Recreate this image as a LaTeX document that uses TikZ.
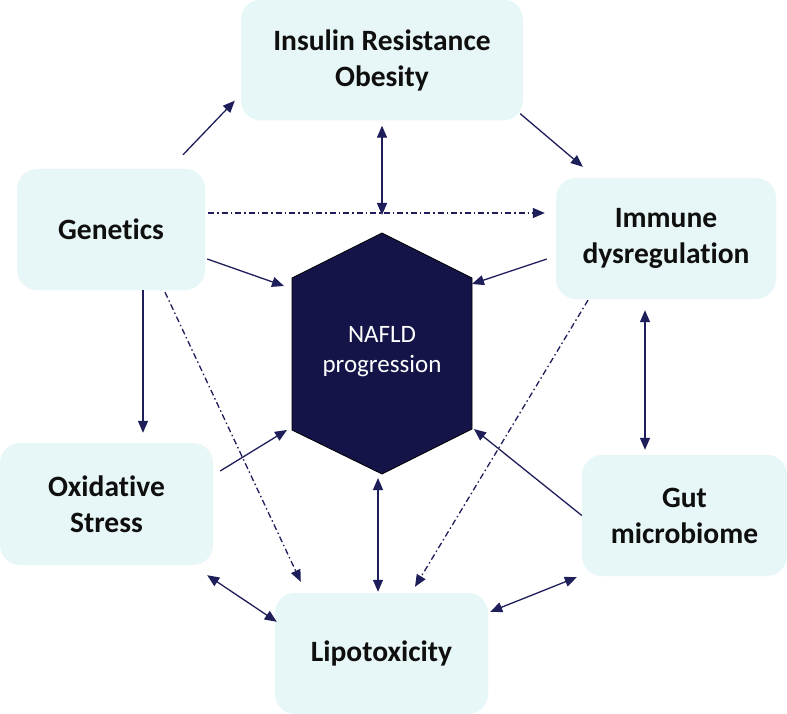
\documentclass[tikz,border=0pt]{standalone}
\usepackage{fontspec}
\setmainfont{Carlito}[Ligatures=NoCommon]
\usetikzlibrary{arrows.meta,calc}
\definecolor{boxfill}{RGB}{231,246,246}
\definecolor{navy}{RGB}{30,30,90}
\definecolor{hexfill}{RGB}{20,20,72}
\definecolor{txt}{RGB}{15,15,15}
\begin{document}
\begin{tikzpicture}[x=1pt,y=-1pt,
  box/.style={fill=boxfill, rounded corners=20pt, align=center, text=txt,
    font=\fontsize{29.5}{36}\selectfont\bfseries, inner sep=0pt},
  conn/.style={draw=navy, line width=1.3pt, -{Triangle[length=12pt,width=10pt]}},
  both/.style={conn, {Triangle[length=12pt,width=10pt]}-{Triangle[length=12pt,width=10pt]}},
  dd/.style={conn, dash pattern=on 6pt off 3pt on 1.5pt off 3pt}]
\useasboundingbox (0,0) rectangle (787,714);
\fill[white] (0,0) rectangle (787,714);
% boxes
\node[box, minimum width=282pt, minimum height=121pt] (ins) at (382,60) {Insulin Resistance\\Obesity};
\node[box, minimum width=188pt, minimum height=121pt] (gen) at (111,229.5) {Genetics};
\node[box, minimum width=220pt, minimum height=121pt] (imm) at (666,238.5) {Immune\\dysregulation};
\node[box, minimum width=213pt, minimum height=122pt] (oxi) at (106.5,504) {Oxidative\\Stress};
\node[box, minimum width=213pt, minimum height=121pt] (lip) at (381.5,653.5) {Lipotoxicity};
\node[box, minimum width=205pt, minimum height=121pt] (gut) at (684.5,515.5) {Gut\\microbiome};
% hexagon
\coordinate (hT) at (382,233);
\coordinate (hUR) at (472,278);
\coordinate (hLR) at (472,429);
\coordinate (hB) at (382,474);
\coordinate (hLL) at (292,430);
\coordinate (hUL) at (292,278);
\filldraw[fill=hexfill, draw=black, line width=0.8pt] (hT) -- (hUR) -- (hLR) -- (hB) -- (hLL) -- (hUL) -- cycle;
\node[font=\fontsize{25}{30}\selectfont, text=white, align=center] (hex) at (382,352) {NAFLD\\progression};
% connectors
\draw[conn] ($(gen.north)+(72,-14)$) -- ($(ins.south west)+(-6,-20)$);
\draw[both] ($(ins.south)+(0,5)$) -- ($(hT)+(0,-18)$);
\draw[conn] ($(ins.south east)+(-3,-7)$) -- ($(imm.north west)+(27,-11)$);
\draw[dd] ($(gen.east)+(3,-16.5)$) -- ($(imm.west)+(-11,-25.5)$);
\draw[conn] ($(gen.east)+(2,29.5)$) -- ($(hUL)+(-8,8)$);
\draw[conn] ($(imm.west)+(-9,20.5)$) -- ($(hUR)+(0,6)$);
\draw[conn] ($(gen.south)+(32,0)$) -- ($(oxi.north)+(36.5,-10)$);
\draw[dd] ($(gen.south)+(54,2)$) -- ($(lip.north west)+(26,-11)$);
\draw[conn] ($(oxi.east)+(7,-33)$) -- ($(hLL)+(-5,0)$);
\draw[both] ($(oxi.south east)+(-6,10)$) -- ($(lip.north west)+(2,29)$);
\draw[both] ($(hB)+(-4,4)$) -- ($(lip.north)+(-3.5,-1)$);
\draw[dd] ($(imm.south)+(-78,1)$) -- ($(lip.north)+(33.5,-6)$);
\draw[conn] (gut.west) -- ($(hLR)+(2,0)$);
\draw[both] ($(imm.south)+(-21,11)$) -- ($(gut.north)+(-39.5,-5)$);
\draw[both] ($(lip.north east)+(2,19)$) -- ($(gut.south west)+(-5,1)$);
\end{tikzpicture}
\end{document}
